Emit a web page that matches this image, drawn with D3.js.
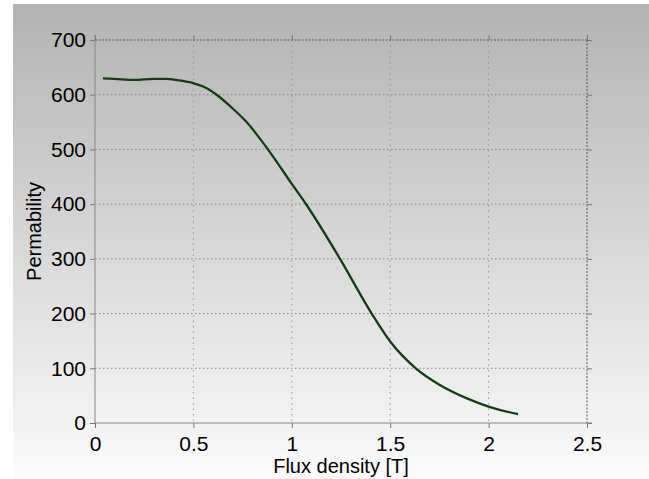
<!DOCTYPE html>
<html>
<head>
<meta charset="utf-8">
<script src="https://cdn.jsdelivr.net/npm/d3@7"></script>
<style>
  body { margin: 0; background: #ffffff; }
  text { font-family: "Liberation Sans", Arial, sans-serif; fill: #000; }
</style>
</head>
<body>
<div id="chart"></div>
<script>
// Datos
var fluxDensity = [0.04, 0.10, 0.20, 0.30, 0.36, 0.43, 0.50, 0.55, 0.618, 0.69, 0.77, 0.885, 1.00, 1.076, 1.245, 1.406, 1.50, 1.63, 1.75, 1.89, 2.00, 2.15];
var permability = [630, 629, 627, 629, 629, 626, 621, 615, 600, 578, 550, 497, 437, 398, 300, 200, 149, 100, 70, 45, 30, 16];

var xTicks = [0, 0.5, 1, 1.5, 2, 2.5];
var yTicks = [0, 100, 200, 300, 400, 500, 600, 700];

var svgWidth = 649;
var svgHeight = 479;

var margin = {
    top: 40,
    right: 62,
    bottom: 56,
    left: 95
};

var width = svgWidth - margin.left - margin.right;
var height = svgHeight - margin.top - margin.bottom;

var svg = d3.select("#chart")
    .append("svg")
    .attr("width", svgWidth)
    .attr("height", svgHeight);

// Fondo con degradado gris
var grad = svg.append("defs")
    .append("linearGradient")
    .attr("id", "bg")
    .attr("x1", 0).attr("y1", 0)
    .attr("x2", 0).attr("y2", 1);
grad.append("stop").attr("offset", "0%").attr("stop-color", "#b3b3b3");
grad.append("stop").attr("offset", "100%").attr("stop-color", "#fbfbfb");

svg.append("rect")
    .attr("x", 13)
    .attr("y", 4)
    .attr("width", svgWidth - 13)
    .attr("height", svgHeight - 4)
    .attr("fill", "url(#bg)");

var chartGroup = svg.append("g")
    .attr("transform", `translate(${margin.left}, ${margin.top})`);

var xLinearScale = d3.scaleLinear()
    .domain([0, 2.5])
    .range([0, width]);

var yLinearScale = d3.scaleLinear()
    .domain([0, 700])
    .range([height, 0]);

// Rejilla punteada
chartGroup.selectAll(".hgrid")
    .data(yTicks.slice(1, -1))
    .enter()
    .append("line")
    .attr("x1", 0)
    .attr("x2", width)
    .attr("y1", d => yLinearScale(d))
    .attr("y2", d => yLinearScale(d))
    .attr("stroke", "#858585")
    .attr("stroke-width", 1)
    .attr("stroke-dasharray", "1.5,2.5");

chartGroup.selectAll(".vgrid")
    .data(xTicks.slice(1, -1))
    .enter()
    .append("line")
    .attr("y1", 0)
    .attr("y2", height)
    .attr("x1", d => xLinearScale(d))
    .attr("x2", d => xLinearScale(d))
    .attr("stroke", "#959595")
    .attr("stroke-width", 1)
    .attr("stroke-dasharray", "1.5,4");

// Borde superior y derecho punteado
chartGroup.append("line")
    .attr("x1", 0).attr("x2", width)
    .attr("y1", 0).attr("y2", 0)
    .attr("stroke", "#555")
    .attr("stroke-dasharray", "2,1.5");
chartGroup.append("line")
    .attr("x1", width).attr("x2", width)
    .attr("y1", 0).attr("y2", height)
    .attr("stroke", "#555")
    .attr("stroke-dasharray", "2,1.5");

// Ejes
var bottomAxis = d3.axisBottom(xLinearScale)
    .tickValues(xTicks)
    .tickSize(5)
    .tickPadding(8)
    .tickFormat(d3.format("~g"));
var leftAxis = d3.axisLeft(yLinearScale)
    .tickValues(yTicks)
    .tickSize(5)
    .tickPadding(4);
var topAxis = d3.axisTop(xLinearScale)
    .tickValues(xTicks)
    .tickSize(5)
    .tickFormat("");
var rightAxis = d3.axisRight(yLinearScale)
    .tickValues(yTicks)
    .tickSize(5)
    .tickFormat("");

var xAxis = chartGroup.append("g")
    .attr("transform", `translate(0, ${height})`)
    .call(bottomAxis);
var yAxis = chartGroup.append("g")
    .call(leftAxis);
chartGroup.append("g")
    .call(topAxis);
chartGroup.append("g")
    .attr("transform", `translate(${width}, 0)`)
    .call(rightAxis);

chartGroup.selectAll(".domain").attr("stroke", "none");
chartGroup.selectAll(".tick line").attr("stroke", "#777");
chartGroup.selectAll(".tick text")
    .style("font-size", "21px")
    .style("font-family", "'Liberation Sans', Arial, sans-serif")
    .attr("fill", "#000");

// Lineas de ejes solidas
chartGroup.append("line")
    .attr("x1", 0).attr("x2", width + 5)
    .attr("y1", height).attr("y2", height)
    .attr("stroke", "#888");
chartGroup.append("line")
    .attr("x1", 0).attr("x2", 0)
    .attr("y1", -5).attr("y2", height)
    .attr("stroke", "#888");

// Curva
var lineData = fluxDensity.map((x, i) => ({ x: x, y: permability[i] }));
var line = d3.line()
    .x(d => xLinearScale(d.x))
    .y(d => yLinearScale(d.y))
    .curve(d3.curveMonotoneX);

chartGroup.append("path")
    .datum(lineData)
    .attr("d", line)
    .attr("fill", "none")
    .attr("stroke", "#163c16")
    .attr("stroke-width", 2.3);

// Etiquetas de ejes
chartGroup.append("text")
    .attr("x", width / 2)
    .attr("y", height + 50)
    .attr("text-anchor", "middle")
    .style("font-size", "20px")
    .text("Flux density [T]");

chartGroup.append("text")
    .attr("transform", "rotate(-90)")
    .attr("x", 0 - (height / 2))
    .attr("y", 0 - margin.left + 41)
    .attr("text-anchor", "middle")
    .style("font-size", "20px")
    .text("Permability");
</script>
</body>
</html>
